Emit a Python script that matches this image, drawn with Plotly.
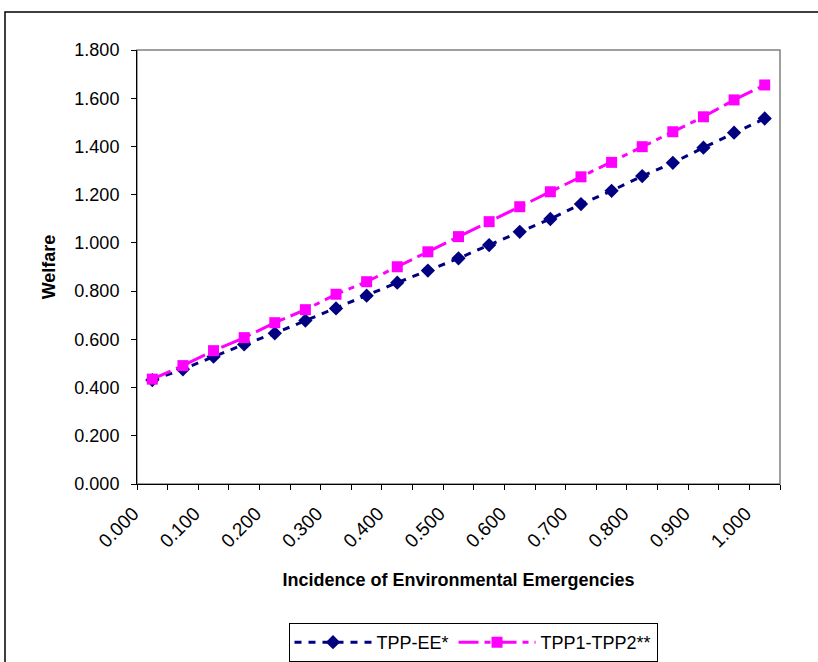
import plotly.graph_objects as go

# Incidence categories (0.000 .. 1.000 in steps of 0.050)
incidence = ["0.000", "0.050", "0.100", "0.150", "0.200", "0.250", "0.300",
             "0.350", "0.400", "0.450", "0.500", "0.550", "0.600", "0.650",
             "0.700", "0.750", "0.800", "0.850", "0.900", "0.950", "1.000"]

# Tick labels shown on every other category
tick_labels = ["0.000", "", "0.100", "", "0.200", "", "0.300", "", "0.400", "",
               "0.500", "", "0.600", "", "0.700", "", "0.800", "", "0.900", "",
               "1.000"]

# Welfare series
tpp_ee = [0.431, 0.476, 0.528, 0.579, 0.625, 0.678, 0.728, 0.781, 0.835, 0.885,
          0.936, 0.991, 1.046, 1.099, 1.161, 1.216, 1.277, 1.332, 1.395, 1.457,
          1.516]
tpp1_tpp2 = [0.435, 0.491, 0.553, 0.607, 0.669, 0.723, 0.787, 0.839, 0.901, 0.963,
             1.026, 1.088, 1.150, 1.212, 1.274, 1.334, 1.399, 1.461, 1.523, 1.593,
             1.655]

y_ticks = [0.0, 0.2, 0.4, 0.6, 0.8, 1.0, 1.2, 1.4, 1.6, 1.8]

FONT = "Liberation Sans, Arial, sans-serif"
NAVY = "#000080"
MAGENTA = "#FF00FF"

fig = go.Figure()

fig.add_trace(go.Scatter(
    x=incidence, y=tpp_ee, name="TPP-EE*", mode="lines+markers",
    line=dict(color=NAVY, width=3, dash="7px,7px"),
    marker=dict(symbol="diamond", size=11, color=NAVY),
))
fig.add_trace(go.Scatter(
    x=incidence, y=tpp1_tpp2, name="TPP1-TPP2**", mode="lines+markers",
    line=dict(color=MAGENTA, width=3, dash="20px,6px,6px,6px"),
    marker=dict(symbol="square", size=11, color=MAGENTA),
))

L, R, T, B = 137, 38, 50, 178
W, H = 818, 662
pw, ph = W - L - R, H - T - B


def px_x(px):
    return (px - L) / pw


def px_y(py):
    return (H - B - py) / ph


fig.update_layout(
    width=W, height=H,
    margin=dict(l=L, r=R, t=T, b=B, autoexpand=False),
    paper_bgcolor="white", plot_bgcolor="white",
    font=dict(family=FONT, size=18, color="black"),
    showlegend=True,
    legend=dict(
        orientation="h", x=px_x(473), xanchor="center",
        y=px_y(623), yanchor="top",
        bordercolor="black", borderwidth=1, bgcolor="white",
        font=dict(family=FONT, size=18), itemwidth=77,
    ),
    xaxis=dict(
        type="category", categoryorder="array", categoryarray=incidence,
        range=[-0.5, len(incidence) - 0.5],
        tickmode="array", tickvals=incidence, ticktext=tick_labels,
        tickson="boundaries", ticks="outside", ticklen=5, tickcolor="black",
        tickangle=-45, ticklabelstandoff=10, ticklabelshift=-19,
        tickfont=dict(size=19),
        showline=True, linecolor="black", linewidth=1,
        showgrid=False, zeroline=False, automargin=False,
        title=dict(text="<b>Incidence of Environmental Emergencies</b>",
                   font=dict(size=18), standoff=22),
    ),
    yaxis=dict(
        range=[0, 1.8], tickmode="array", tickvals=y_ticks,
        tickformat=".3f", ticks="outside", ticklen=5, tickcolor="black",
        ticklabelstandoff=8,
        showline=True, linecolor="black", linewidth=1,
        showgrid=False, zeroline=False, automargin=False,
        title=dict(text="<b>Welfare</b>", font=dict(size=18), standoff=14),
    ),
    shapes=[
        # grey frame of the plotting area
        dict(type="rect", xref="paper", yref="paper", x0=0, x1=1, y0=0, y1=1,
             line=dict(color="#808080", width=1.5), layer="below"),
        # outer chart border
        dict(type="rect", xref="paper", yref="paper",
             x0=px_x(5), x1=px_x(830), y0=px_y(680), y1=px_y(12),
             line=dict(color="black", width=1.5), layer="below"),
    ],
)

fig.write_html("out.html")
